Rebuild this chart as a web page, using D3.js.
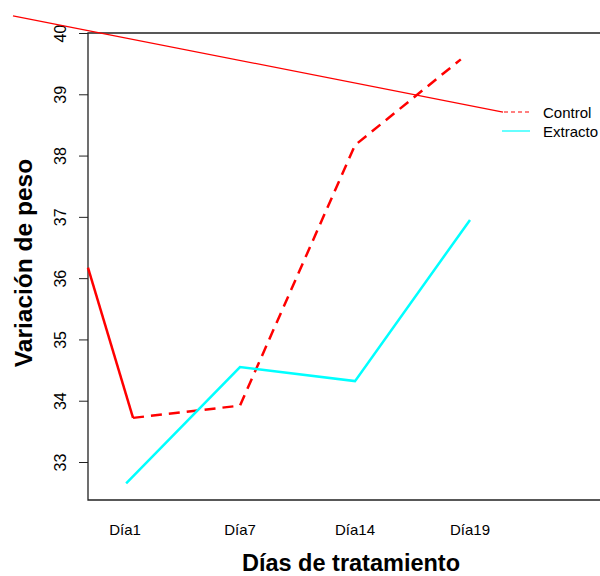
<!DOCTYPE html>
<meta charset="utf-8">
<script src="https://d3js.org/d3.v7.js"></script>
<style>
  body { margin: 0; background: #fff; }
  text { font-family: "Liberation Sans", Arial, sans-serif; }
</style>
<div id="my_dataviz"></div>
<script>

// data
var categories = ["Día1", "Día7", "Día14", "Día19"];
var yTicks = [33, 34, 35, 36, 37, 38, 39, 40];

var controlX = [1.07, 2, 3, 3.92];
var controlY = [33.72, 33.92, 38.17, 39.57];
// solid lead-in segment of the control series (enters from the left edge)
var leadX = [0.678, 1.07];
var leadY = [36.17, 33.72];

var extractoX = [1.01, 2, 3, 4];
var extractoY = [32.65, 34.55, 34.32, 36.95];

// thin red line running into the legend
var strayX = [0.026, 4.287];
var strayY = [40.28, 38.71];

var legendLabels = ["Control", "Extracto"];

var W = 600, H = 576;
var plotLeft = 88, plotTop = 33, plotBottom = 500, plotRight = 600;

var svg = d3.select("#my_dataviz")
  .append("svg")
    .attr("width", W)
    .attr("height", H);

var x = d3.scaleLinear().domain([1, 4]).range([125, 470]);
var y = d3.scaleLinear().domain([33, 40]).range([462, 33]);

var line = d3.line()
  .x(function (d) { return x(d[0]); })
  .y(function (d) { return y(d[1]); });

function pairs(xs, ys) { return xs.map(function (v, i) { return [v, ys[i]]; }); }

// box (left, top, bottom)
svg.append("path")
  .attr("d", "M" + plotRight + "," + plotTop + "H" + plotLeft + "V" + plotBottom + "H" + plotRight)
  .attr("fill", "none")
  .attr("stroke", "#222")
  .attr("stroke-width", 1.3);

// Y axis
var yAxis = svg.append("g")
  .attr("transform", "translate(" + plotLeft + ",0)")
  .call(d3.axisLeft(y).tickValues(yTicks).tickSize(9).tickFormat(d3.format("d")));
yAxis.select(".domain").remove();
yAxis.selectAll(".tick line").attr("stroke", "#222");
yAxis.selectAll(".tick text")
  .attr("x", null).attr("dy", null)
  .attr("transform", "translate(-26,0) rotate(-90)")
  .attr("text-anchor", "middle")
  .attr("dominant-baseline", "middle")
  .style("font-size", "16px")
  .style("font-family", "Liberation Sans, Arial, sans-serif")
  .attr("fill", "#000");

// X labels
svg.append("g")
  .selectAll("text")
  .data(categories)
  .enter()
  .append("text")
    .attr("x", function (d, i) { return x(i + 1); })
    .attr("y", 535)
    .attr("text-anchor", "middle")
    .style("font-size", "15px")
    .text(function (d) { return d; });

// axis titles
svg.append("text")
  .attr("x", 351).attr("y", 571)
  .attr("text-anchor", "middle")
  .style("font-size", "23.5px").style("font-weight", "bold")
  .text("Días de tratamiento");

svg.append("text")
  .attr("transform", "translate(32,263) rotate(-90)")
  .attr("text-anchor", "middle")
  .style("font-size", "24.5px").style("font-weight", "bold")
  .text("Variación de peso");

// series
svg.append("path")
  .attr("d", line(pairs(strayX, strayY)))
  .attr("fill", "none").attr("stroke", "#ff0000").attr("stroke-width", 1.2);

svg.append("path")
  .attr("d", line(pairs(leadX, leadY)))
  .attr("fill", "none").attr("stroke", "#ff0000").attr("stroke-width", 2.5);

svg.append("path")
  .attr("d", line(pairs(controlX, controlY)))
  .attr("fill", "none").attr("stroke", "#ff0000").attr("stroke-width", 2.5)
  .attr("stroke-dasharray", "11,7");

svg.append("path")
  .attr("d", line(pairs(extractoX, extractoY)))
  .attr("fill", "none").attr("stroke", "#00ffff").attr("stroke-width", 2.5);

// legend
var legend = svg.append("g");
legend.append("line")
  .attr("x1", 504).attr("x2", 530).attr("y1", 112).attr("y2", 112)
  .attr("stroke", "#ff0000").attr("stroke-width", 1.2).attr("stroke-dasharray", "4,3");
legend.append("line")
  .attr("x1", 502).attr("x2", 530).attr("y1", 131).attr("y2", 131)
  .attr("stroke", "#00ffff").attr("stroke-width", 1.2);
legend.selectAll("text.lab")
  .data(legendLabels)
  .enter()
  .append("text")
    .attr("class", "lab")
    .attr("x", 543)
    .attr("y", function (d, i) { return 118 + i * 19; })
    .style("font-size", "15px")
    .text(function (d) { return d; });

</script>
